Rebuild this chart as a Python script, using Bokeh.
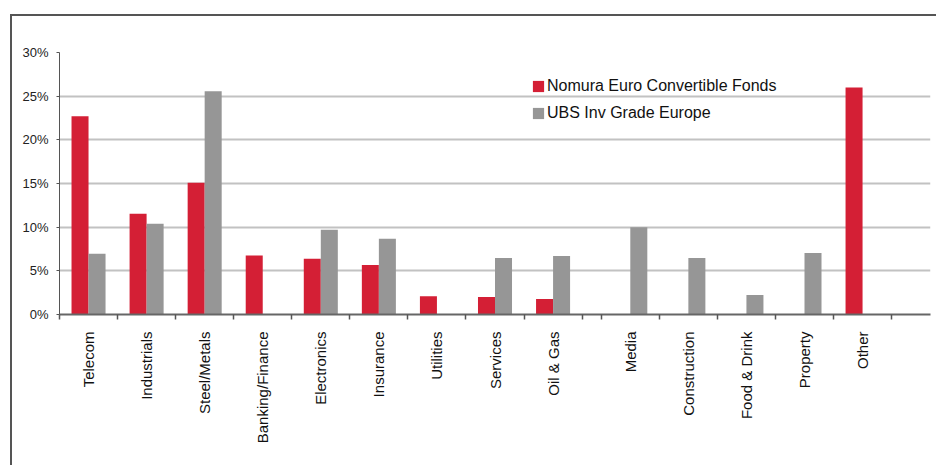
import numpy as np
from bokeh.plotting import figure
from bokeh.models import (Range1d, FixedTicker, NumeralTickFormatter, LinearAxis,
                          ColumnDataSource)
from bokeh.embed import file_html
from bokeh.resources import INLINE

# ---- data ----
categories = ["Telecom", "Industrials", "Steel/Metals", "Banking/Finance", "Electronics",
              "Insurance", "Utilities", "Services", "Oil & Gas", "Media", "Construction",
              "Food & Drink", "Property", "Other"]
nomura = [22.7, 11.55, 15.1, 6.75, 6.37, 5.68, 2.1, 2.0, 1.77, 0, 0, 0, 0, 26.0]
ubs = [6.97, 10.4, 25.55, 0, 9.7, 8.66, 0, 6.47, 6.7, 10.0, 6.46, 2.22, 7.04, 0]
series_names = ["Nomura Euro Convertible Fonds", "UBS Inv Grade Europe"]
y_ticks = [0, 5, 10, 15, 20, 25, 30]

RED = "#d41f35"
GREY = "#969696"
FONT = "Liberation Sans"

# layout of slots: a small gap after the 9th category, as in the source picture
GAP = 0.33
idx = np.arange(len(categories))
centers = np.round(idx + 0.5 + np.where(idx >= 9, GAP, 0.0), 3)
bounds = sorted(set(np.round(np.concatenate([centers - 0.5, centers + 0.5, [9.0]]), 3).tolist()))
x_end = 15.0
bw = 0.293

src = ColumnDataSource(dict(
    xr=centers - bw / 2, xg=centers + bw / 2,
    nomura=np.array(nomura) / 100.0, ubs=np.array(ubs) / 100.0))

p = figure(width=936, height=465, output_backend="svg", toolbar_location=None,
           x_range=Range1d(0, x_end), y_range=Range1d(0, 0.30),
           min_border_left=59, min_border_right=6, min_border_top=52, min_border_bottom=151,
           x_axis_type=None)
p.outline_line_color = None
p.background_fill_color = "white"
p.border_fill_alpha = 0
# outer frame of the picture (only left and top edges are visible)
p.styles = {
    "background": ("linear-gradient(#555555,#555555) 10px 14px / 2px 600px no-repeat, "
                   "linear-gradient(#555555,#555555) 10px 14px / 1200px 2px no-repeat, white"),
}

p.vbar(x="xr", top="nomura", width=bw, source=src, fill_color=RED, line_color=None,
       legend_label=series_names[0])
p.vbar(x="xg", top="ubs", width=bw, source=src, fill_color=GREY, line_color=None,
       legend_label=series_names[1])

# y axis
ya = p.yaxis[0]
ya.ticker = FixedTicker(ticks=[t / 100.0 for t in y_ticks])
ya.formatter = NumeralTickFormatter(format="0%")
ya.major_label_text_font = FONT
ya.major_label_text_font_size = "13px"
ya.major_label_text_color = "#222222"
ya.major_tick_out = 3
ya.major_tick_in = 0
ya.minor_tick_out = 0
ya.minor_tick_in = 0
ya.major_label_standoff = 8
ya.axis_line_color = "#555555"
ya.major_tick_line_color = "#555555"

p.ygrid.grid_line_color = "#c2c2c2"
p.ygrid.grid_line_width = 2
p.xgrid.grid_line_color = None

# x axis: labels at category centres, tick marks at slot boundaries
xa = LinearAxis(ticker=FixedTicker(ticks=centers.tolist(), minor_ticks=bounds))
xa.major_label_overrides = {float(c): n for c, n in zip(centers.tolist(), categories)}
xa.major_label_orientation = np.pi / 2
xa.major_label_text_font = FONT
xa.major_label_text_font_size = "15px"
xa.major_label_text_color = "#111111"
xa.major_tick_out = 0
xa.major_tick_in = 0
xa.minor_tick_out = 5
xa.minor_tick_in = 0
xa.minor_tick_line_color = "#555555"
xa.minor_tick_line_width = 1.5
xa.major_label_standoff = 12
xa.axis_line_color = "#666666"
xa.axis_line_width = 2
p.add_layout(xa, "below")

# legend
lg = p.legend[0]
lg.location = (472, 191)
lg.border_line_color = None
lg.background_fill_alpha = 0
lg.padding = 0
lg.margin = 0
lg.spacing = 7
lg.glyph_width = 14
lg.glyph_height = 14
lg.label_height = 20
lg.label_standoff = 2
lg.label_text_font = FONT
lg.label_text_font_size = "16px"
lg.label_text_color = "#111111"

open("out.html", "w").write(file_html(p, INLINE))
